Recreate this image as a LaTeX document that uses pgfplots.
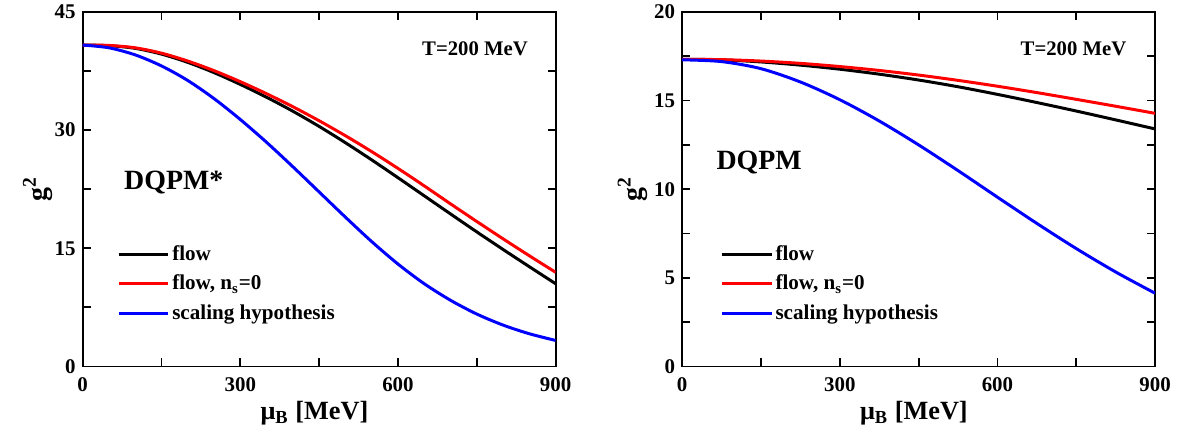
\documentclass[border=0pt]{standalone}
\usepackage{fontspec}
\setmainfont{Liberation Serif}
\usepackage{pgfplots}
\pgfplotsset{compat=1.18}
\begin{document}
\pgfplotsset{
  gstyle/.style={
    scale only axis, width=237.5pt, height=178pt,
    xmin=0, xmax=900, xtick={0,300,600,900}, minor x tick num=1,
    minor y tick num=1,
    tick align=inside, ticks=both,
    xtick pos=both, ytick pos=both,
    major tick length=4pt, minor tick length=4pt,
    every tick/.style={black, line width=0.9pt},
    axis line style={line width=0.9pt},
    /pgf/number format/assume math mode=true,
    tick label style={font=\fontsize{10.5}{12}\selectfont\bfseries},
    xticklabel style={yshift=-2pt},
    xlabel={μ\textsubscript{B} [MeV]},
    ylabel={g\textsuperscript{2}},
    every axis x label/.style={at={(axis description cs:0.49,-0.15)}, anchor=base,
      font=\fontsize{13.2}{16}\selectfont\bfseries},
    legend style={draw=none, fill=none, anchor=north west, inner sep=0pt,
      font=\fontsize{10.6}{12}\selectfont\bfseries, row sep=3.6pt,
      cells={anchor=west}, nodes={inner sep=1.2pt}},
    legend image code/.code={\draw[#1] (0pt,0pt) -- (25pt,0pt);},
    every axis plot/.append style={line width=1.5pt, smooth, no marks},
  }
}
\begin{tikzpicture}
\begin{axis}[gstyle, at={(0,0)}, ymin=0, ymax=45, ytick={0,15,30,45},
  every axis y label/.style={at={(axis description cs:-0.095,0.5)}, rotate=90, anchor=center,
    font=\fontsize{14}{16}\selectfont\bfseries},
  legend style={at={(axis description cs:0.072,0.35)}}]
\addplot[black] coordinates {(0,40.8) (50,40.72) (100,40.38) (150,39.65) (200,38.6) (250,37.3) (300,35.8) (350,34.17) (400,32.4) (450,30.47) (500,28.4) (550,26.22) (600,23.96) (650,21.66) (700,19.36) (750,17.08) (800,14.85) (850,12.66) (900,10.5)};
\addlegendentry{flow}
\addplot[red] coordinates {(0,40.8) (50,40.75) (100,40.45) (150,39.77) (200,38.77) (250,37.55) (300,36.15) (350,34.62) (400,32.97) (450,31.19) (500,29.29) (550,27.27) (600,25.14) (650,22.92) (700,20.64) (750,18.4) (800,16.2) (850,14.05) (900,11.95)};
\addlegendentry{flow, n\textsubscript{s}=0}
\addplot[blue] coordinates {(0,40.8) (50,40.45) (100,39.55) (150,38.15) (200,36.3) (250,34.0) (300,31.35) (350,28.45) (400,25.35) (450,22.15) (500,18.95) (550,15.85) (600,13.0) (650,10.5) (700,8.4) (750,6.65) (800,5.25) (850,4.15) (900,3.3)};
\addlegendentry{scaling hypothesis}
\node[anchor=base east, font=\fontsize{10.4}{12}\selectfont\bfseries] at (axis description cs:0.956,0.878) {T=200 MeV};
\node[anchor=base west, font=\fontsize{14}{16}\selectfont\bfseries] at (axis description cs:0.073,0.5) {DQPM*};
\end{axis}
\begin{axis}[gstyle, at={(301pt,0)}, ymin=0, ymax=20, ytick={0,5,10,15,20},
  every axis y label/.style={at={(axis description cs:-0.105,0.5)}, rotate=90, anchor=center,
    font=\fontsize{14}{16}\selectfont\bfseries},
  legend style={at={(axis description cs:0.08,0.35)}}]
\addplot[black] coordinates {(0,17.33) (75,17.3) (150,17.18) (225,17.0) (300,16.77) (375,16.49) (450,16.16) (525,15.78) (600,15.35) (675,14.89) (750,14.41) (825,13.91) (900,13.4)};
\addlegendentry{flow}
\addplot[red] coordinates {(0,17.33) (75,17.31) (150,17.23) (225,17.1) (300,16.92) (375,16.7) (450,16.44) (525,16.14) (600,15.81) (675,15.45) (750,15.07) (825,14.68) (900,14.28)};
\addlegendentry{flow, n\textsubscript{s}=0}
\addplot[blue] coordinates {(0,17.3) (75,17.2) (150,16.8) (225,16.05) (300,15.05) (375,13.85) (450,12.5) (525,11.05) (600,9.55) (675,8.07) (750,6.65) (825,5.33) (900,4.13)};
\addlegendentry{scaling hypothesis}
\node[anchor=base east, font=\fontsize{10.4}{12}\selectfont\bfseries] at (axis description cs:0.954,0.878) {T=200 MeV};
\node[anchor=base west, font=\fontsize{14}{16}\selectfont\bfseries] at (axis description cs:0.058,0.555) {DQPM};
\end{axis}
\pgfresetboundingbox
\useasboundingbox (-39pt,-36.5pt) rectangle (550pt,184pt);
\end{tikzpicture}
\end{document}
